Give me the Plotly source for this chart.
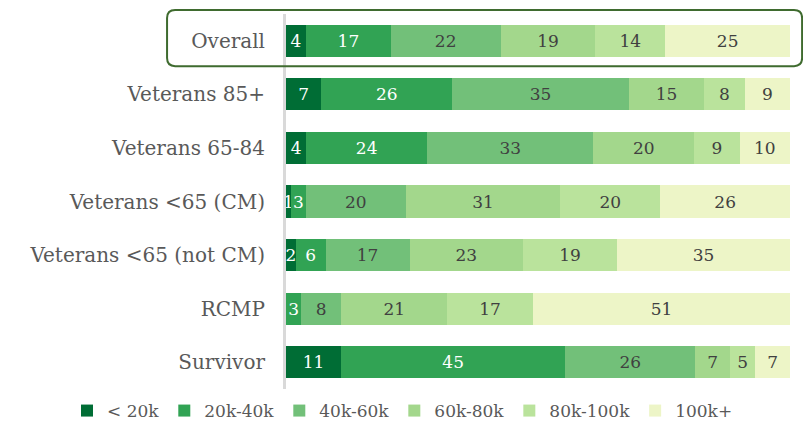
import plotly.graph_objects as go

categories = ["Overall", "Veterans 85+", "Veterans 65-84", "Veterans <65 (CM)",
              "Veterans <65 (not CM)", "RCMP", "Survivor"]
series_names = ["< 20k", "20k-40k", "40k-60k", "60k-80k", "80k-100k", "100k+"]
lt20k = [4, 7, 4, 1, 2, 0, 11]
k20_40 = [17, 26, 24, 3, 6, 3, 45]
k40_60 = [22, 35, 33, 20, 17, 8, 26]
k60_80 = [19, 15, 20, 31, 23, 21, 7]
k80_100 = [14, 8, 9, 20, 19, 17, 5]
k100p = [25, 9, 10, 26, 35, 51, 7]
series_values = [lt20k, k20_40, k40_60, k60_80, k80_100, k100p]

colors = ["#006d35", "#31a354", "#72c079", "#a3d78c", "#bae39c", "#edf5c7"]
text_colors = ["white", "white", "#404040", "#404040", "#404040", "#404040"]

row_totals = [sum(s[i] for s in series_values) for i in range(len(categories))]

FONT = "DejaVu Serif"
fig = go.Figure()
for name, vals, col, tc in zip(series_names, series_values, colors, text_colors):
    fig.add_trace(go.Bar(
        y=categories,
        x=[v / t * 100 for v, t in zip(vals, row_totals)],
        name=name, orientation="h",
        marker=dict(color=col, line=dict(width=0)),
        text=[str(v) for v in vals],
        textposition="inside", insidetextanchor="middle",
        constraintext="none",
        textfont=dict(family=FONT, size=17, color=tc),
        hovertemplate="%{y}: %{text}<extra>" + name + "</extra>",
    ))

fig.update_layout(
    barmode="stack", bargap=0.4,
    width=803, height=425,
    margin=dict(l=286, r=13, t=14, b=36, autoexpand=False),
    plot_bgcolor="white", paper_bgcolor="white",
    font=dict(family=FONT, color="#595959"),
    uniformtext=dict(mode="show", minsize=8),
    xaxis=dict(range=[0, 100], showgrid=False, zeroline=False,
               showticklabels=False, fixedrange=True),
    yaxis=dict(categoryorder="array", categoryarray=categories[::-1],
               showline=True, linecolor="#d9d9d9", linewidth=3,
               ticks="", ticklabelstandoff=14,
               tickfont=dict(family=FONT, size=20, color="#595959")),
    legend=dict(orientation="h", xref="paper", yref="paper",
                x=-0.4345, y=-0.0587, xanchor="left", yanchor="middle",
                font=dict(family=FONT, size=17, color="#595959"),
                itemwidth=30, traceorder="normal"),
    showlegend=True,
)

# rounded box around "Overall" row (paper coordinates)
x0, x1, y0, y1, r = -0.236, 1.024, 0.861, 1.0107, 0.016
ry = r * 504 / 375
path = (f"M {x0 + r},{y1} L {x1 - r},{y1} Q {x1},{y1} {x1},{y1 - ry} "
        f"L {x1},{y0 + ry} Q {x1},{y0} {x1 - r},{y0} L {x0 + r},{y0} "
        f"Q {x0},{y0} {x0},{y0 + ry} L {x0},{y1 - ry} Q {x0},{y1} {x0 + r},{y1} Z")
fig.add_shape(type="path", path=path, xref="paper", yref="paper",
              line=dict(color="#3f6b2f", width=2))

fig.write_html("out.html", config={"displayModeBar": False},
               post_script="document.body.style.margin='0px';")
